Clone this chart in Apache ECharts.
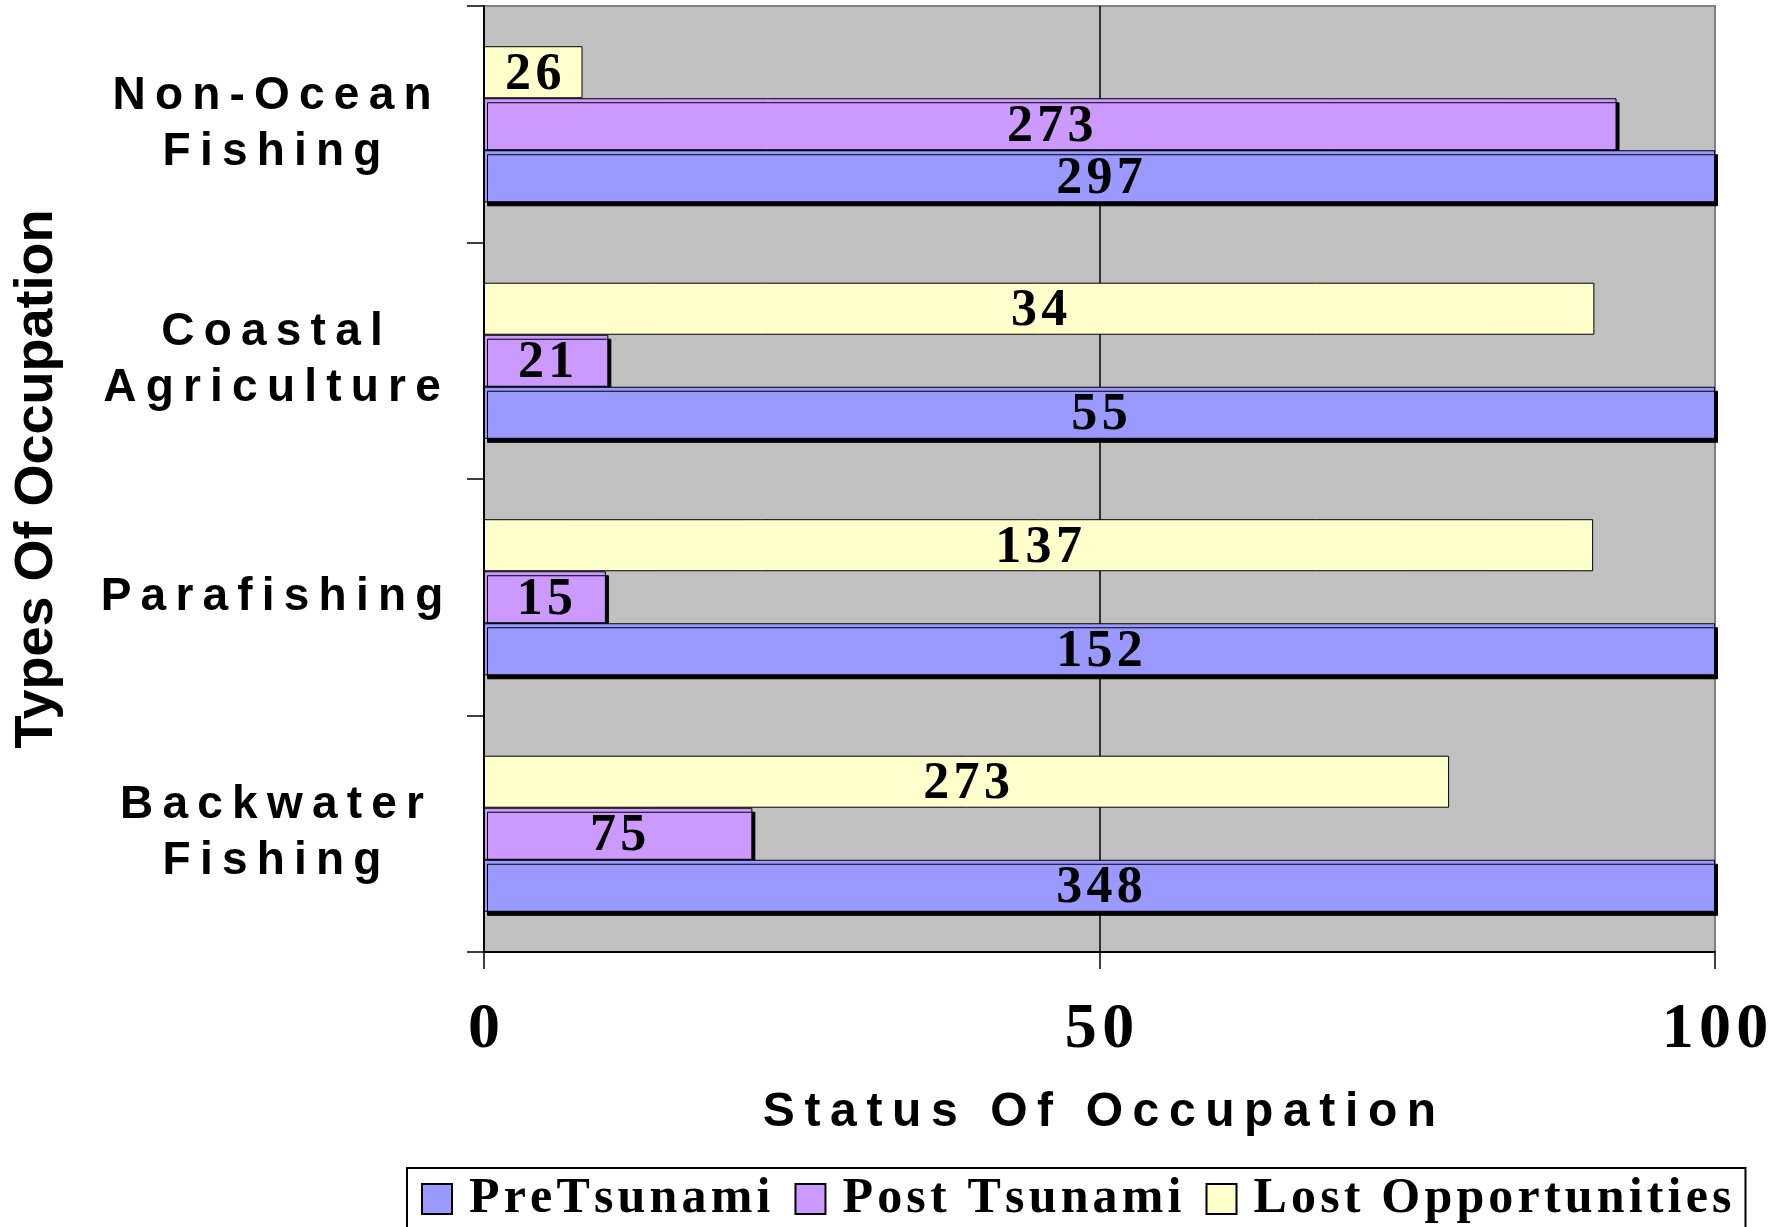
<!DOCTYPE html>
<html>
<head>
<meta charset="utf-8">
<script src="https://cdn.jsdelivr.net/npm/echarts@6/dist/echarts.min.js"></script>
<style>
  html, body { margin: 0; padding: 0; background: #fff; }
  #chart { width: 1773px; height: 1227px; }
</style>
</head>
<body>
<div id="chart"></div>
<script>
// categories, bottom to top
const categories = ['Backwater\nFishing', 'Parafishing', 'Coastal\nAgriculture', 'Non-Ocean\nFishing']
const seriesNames = ['PreTsunami', 'Post Tsunami', 'Lost Opportunities']

// bar lengths (% status of occupation)
const preValues = [100, 100, 100, 100]
const postValues = [21.8, 9.9, 10.1, 92]
const lostValues = [78.4, 90.1, 90.2, 8]

// numbers printed on the bars
const preCounts = [348, 152, 55, 297]
const postCounts = [75, 15, 21, 273]
const lostCounts = [273, 137, 34, 26]

const xTicks = [0, 50, 100]

// wide tracking like the original
const spread = (s, sp) => String(s).split('\n').map(l => l.split('').join(sp || '\u2009')).join('\n')

const chart = echarts.init(document.getElementById('chart'))

const serif = 'Liberation Serif, Times New Roman, serif'
const sans = 'Liberation Sans, Arial, sans-serif'

function barSeries(name, values, counts, color, z, shadow) {
  return {
    name: name,
    type: 'bar',
    z: z,
    data: values,
    barGap: '0%',
    barCategoryGap: '34%',
    itemStyle: {
      color: color,
      borderColor: '#000',
      borderWidth: 1,
      shadowColor: shadow ? '#000' : 'transparent',
      shadowBlur: 0,
      shadowOffsetX: 3,
      shadowOffsetY: 4
    },
    label: {
      show: true,
      position: 'inside',
      offset: [0, 3],
      formatter: p => spread(counts[p.dataIndex], '\u200a'),
      color: '#000',
      fontFamily: serif,
      fontWeight: 'bold',
      fontSize: 52
    }
  }
}

chart.setOption({
  backgroundColor: '#fff',
  animation: false,
  grid: {
    left: 484, top: 6, right: 58, bottom: 275,
    show: true,
    backgroundColor: '#c0c0c0',
    borderColor: '#808080',
    borderWidth: 2
  },
  xAxis: {
    type: 'value',
    min: xTicks[0],
    max: xTicks[xTicks.length - 1],
    interval: 50,
    name: spread('Status Of Occupation'),
    nameLocation: 'middle',
    nameGap: 137,
    nameTextStyle: { fontFamily: sans, fontWeight: 'bold', fontSize: 48, color: '#000' },
    axisLine: { show: true, lineStyle: { color: '#000', width: 2 } },
    axisTick: { show: true, length: 17, lineStyle: { color: '#000', width: 1.5 } },
    axisLabel: {
      margin: 46,
      formatter: v => spread(v, '\u200a'),
      fontFamily: serif, fontWeight: 'bold', fontSize: 64, color: '#000'
    },
    splitLine: { show: true, lineStyle: { color: ['#000', '#000', '#808080'], width: 1.5 } }
  },
  yAxis: {
    type: 'category',
    data: categories,
    name: 'Types Of Occupation',
    nameLocation: 'middle',
    nameRotate: 90,
    nameGap: 420,
    nameTextStyle: { fontFamily: sans, fontWeight: 'bold', fontSize: 54, color: '#000' },
    axisLine: { show: true, lineStyle: { color: '#000', width: 2 } },
    axisTick: { show: true, length: 17, lineStyle: { color: '#000', width: 1.5 } },
    axisLabel: {
      margin: 212,
      align: 'center',
      formatter: v => spread(v),
      fontFamily: sans, fontWeight: 'bold', fontSize: 46, lineHeight: 56, color: '#000'
    },
    splitLine: { show: false }
  },
  legend: {
    data: seriesNames,
    left: 407,
    top: 1168,
    orient: 'horizontal',
    padding: [6, 14, 30, 14],
    itemGap: 24,
    itemWidth: 30,
    itemHeight: 30,
    borderColor: '#000',
    borderWidth: 2,
    icon: 'rect',
    itemStyle: { borderColor: '#000', borderWidth: 2, shadowColor: 'transparent' },
    formatter: n => spread(n, '\u200a'),
    textStyle: { fontFamily: serif, fontWeight: 'bold', fontSize: 50, color: '#000', padding: [0, 0, 0, 12] }
  },
  // first series sits at the top of each group
  series: [
    barSeries(seriesNames[2], lostValues, lostCounts, '#ffffcc', 2, false),
    barSeries(seriesNames[1], postValues, postCounts, '#cc99ff', 3, true),
    barSeries(seriesNames[0], preValues, preCounts, '#9999ff', 4, true)
  ]
})
</script>
</body>
</html>
